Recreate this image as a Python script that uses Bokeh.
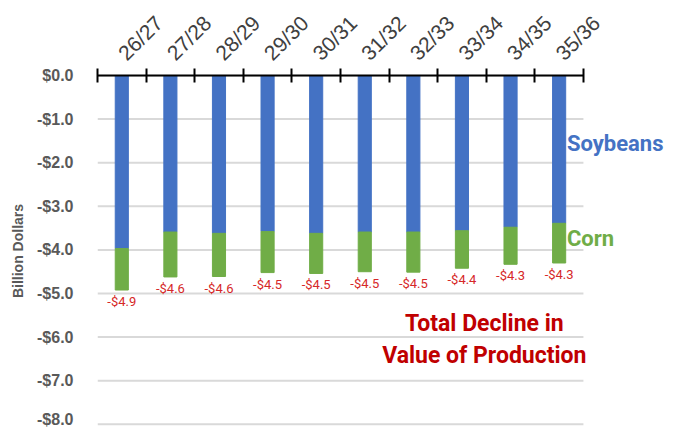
import math
from bokeh.plotting import figure
from bokeh.models import FixedTicker, CustomJSTickFormatter, ColumnDataSource, Label
from bokeh.core.properties import value
from bokeh.embed import file_html
from bokeh.resources import INLINE

# ---- data ----
years = ["26/27", "27/28", "28/29", "29/30", "30/31", "31/32", "32/33", "33/34", "34/35", "35/36"]
soybeans = [-3.97, -3.59, -3.62, -3.58, -3.62, -3.59, -3.59, -3.56, -3.48, -3.39]
totals = [-4.92, -4.62, -4.61, -4.52, -4.54, -4.50, -4.51, -4.42, -4.33, -4.30]
y_ticks = [0, -1, -2, -3, -4, -5, -6, -7, -8]

n = len(years)
xs = [i + 0.5 for i in range(n)]
labels = ["-$%.1f" % abs(t) for t in totals]
src = ColumnDataSource(dict(x=xs, soy=soybeans, tot=totals, zero=[0] * n, lab=labels))

p = figure(width=668, height=427, x_range=(0, 11.73), y_range=(-8.05, 0),
           x_axis_location="above", output_backend="svg", toolbar_location=None,
           min_border_left=97, min_border_right=1, min_border_top=75, min_border_bottom=1)
p.outline_line_color = None
p.background_fill_color = "white"

# horizontal gridlines over the category span only
grid_src = ColumnDataSource(dict(y=y_ticks, x0=[0] * len(y_ticks), x1=[n] * len(y_ticks)))
p.segment(x0="x0", x1="x1", y0="y", y1="y", source=grid_src, line_color="#D9D9D9", line_width=2)

# bars
p.vbar(x="x", top="zero", bottom="soy", width=0.27, color="#4472C4", source=src)
p.vbar(x="x", top="soy", bottom="tot", width=0.27, color="#70AD47", source=src)

# data labels
p.text(x="x", y="tot", text="lab", source=src, y_offset=4, text_align="center",
       text_baseline="top", text_color="#D62828", text_font_size="13px",
       text_font=value("Roboto"))

# top axis with category labels
xa = p.xaxis[0]
xa.bounds = (0, n)
xa.ticker = FixedTicker(ticks=xs, minor_ticks=list(range(n + 1)))
xa.formatter = CustomJSTickFormatter(args=dict(cats=years),
                                     code="return cats[Math.floor(tick)];")
xa.major_label_orientation = math.pi / 4
xa.major_tick_line_color = None
xa.minor_tick_line_color = "black"
xa.minor_tick_line_width = 2
xa.minor_tick_in = 7
xa.minor_tick_out = 7
xa.axis_line_color = "black"
xa.axis_line_width = 2
xa.major_label_text_font_size = "21px"
xa.major_label_text_color = "#404040"
xa.major_label_text_font = "Liberation Sans"
xa.major_label_standoff = 12

p.xgrid.grid_line_color = None
p.ygrid.grid_line_color = None

# y axis
ya = p.yaxis[0]
ya.ticker = FixedTicker(ticks=y_ticks)
ya.formatter = CustomJSTickFormatter(code="return (tick < 0 ? '-$' : '$') + Math.abs(tick).toFixed(1);")
ya.axis_line_color = None
ya.major_tick_line_color = None
ya.minor_tick_line_color = None
ya.major_label_text_font_size = "16px"
ya.major_label_text_font_style = "bold"
ya.major_label_text_color = "#595959"
ya.major_label_text_font = "Liberation Sans"
ya.major_label_standoff = 18
ya.axis_label = "Billion Dollars"
ya.axis_label_text_font_size = "14px"
ya.axis_label_text_font_style = "bold"
ya.axis_label_text_color = "#595959"
ya.axis_label_text_font = "Liberation Sans"
ya.axis_label_standoff = 8

# annotations
for txt, x, y, col in [("Soybeans", 9.66, -1.56, "#4472C4"), ("Corn", 9.66, -3.74, "#70AD47")]:
    p.add_layout(Label(x=x, y=y, text=txt, text_color=col, text_font_size="22px",
                       text_font_style="bold", text_font="Roboto",
                       text_align="left", text_baseline="middle"))
for txt, y in [("Total Decline in", -5.69), ("Value of Production", -6.42)]:
    p.add_layout(Label(x=7.96, y=y, text=txt, text_color="#C00000", text_font_size="23px",
                       text_font_style="bold", text_font="Roboto",
                       text_align="center", text_baseline="middle"))

open("out.html", "w").write(file_html(p, INLINE))
